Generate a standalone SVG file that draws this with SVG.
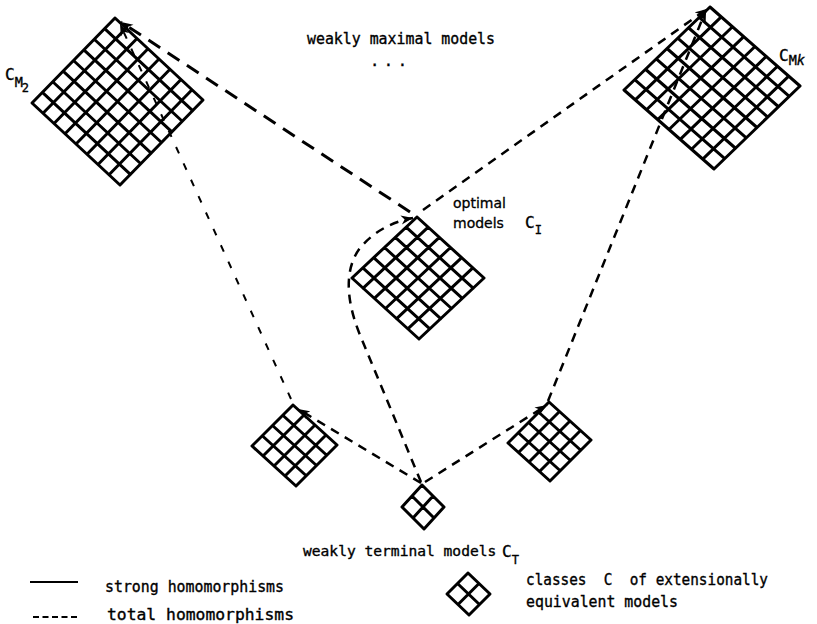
<svg xmlns="http://www.w3.org/2000/svg" width="817" height="624" viewBox="0 0 817 624">
<style>
.grid{fill:none;stroke:#000;stroke-width:3;stroke-linecap:round;stroke-linejoin:round;vector-effect:non-scaling-stroke}
.t{font-family:"DejaVu Sans Mono","Liberation Mono",monospace;font-size:15.5px;fill:#000;stroke:#000;stroke-width:0.35}
.lab{font-family:"DejaVu Sans Mono","Liberation Mono",monospace;font-size:16px;fill:#000;stroke:#000;stroke-width:0.35}
.p{font-family:"DejaVu Sans","Liberation Sans",sans-serif;font-size:14px;fill:#000;stroke:#000;stroke-width:0.3}
.c{fill:none;stroke:#000;stroke-width:2.5;stroke-dasharray:9 7}
.heavy{stroke-width:3;stroke-dasharray:14 9}
.light{stroke-width:2;stroke-dasharray:7 11}
</style>
<defs>
<marker id="arr" markerUnits="userSpaceOnUse" markerWidth="14" markerHeight="10" refX="12" refY="5" orient="auto">
<path d="M0,0.5 L12,5 L0,9.5 L3.5,5 Z" fill="#000"/>
</marker>
</defs>

<g id="connectors">
<path class="c" d="M421,483 L298,409" marker-end="url(#arr)"/>
<path class="c" d="M425,482 L547,405" marker-end="url(#arr)"/>
<path class="c" d="M421,482 L360,335 C345,298 345,268 360,248 C375,230 395,221 413,218" marker-end="url(#arr)"/>
<path class="c light" d="M291,399 L120,24" marker-end="url(#arr)"/>
<path class="c" d="M548,401 L706,10" marker-end="url(#arr)"/>
<path class="c heavy" d="M410,212 L121,22" marker-end="url(#arr)"/>
<path class="c" d="M423,210 L707,9" marker-end="url(#arr)"/>
</g>

<g id="node-cm2">
<g transform="matrix(11,10.25,-10.375,10.625,115,18)"><path class="grid" d="M0,0H8M0,1H8M0,2H8M0,3H8M0,4H8M0,5H8M0,6H8M0,7H8M0,8H8M0,0V8M1,0V8M2,0V8M3,0V8M4,0V8M5,0V8M6,0V8M7,0V8M8,0V8"/></g>
<text class="lab" x="5" y="80">C<tspan dy="7" font-size="13.5">M</tspan><tspan dy="5" dx="-1" font-size="12">2</tspan></text>
</g>

<g id="node-cmk">
<g transform="matrix(11.25,9.875,-10.75,10.375,710,7)"><path class="grid" d="M0,0H8M0,1H8M0,2H8M0,3H8M0,4H8M0,5H8M0,6H8M0,7H8M0,8H8M0,0V8M1,0V8M2,0V8M3,0V8M4,0V8M5,0V8M6,0V8M7,0V8M8,0V8"/></g>
<text class="lab" x="779" y="61">C<tspan dy="4" font-size="13.5">M</tspan><tspan font-size="13.5" font-style="italic">k</tspan></text>
</g>

<g id="node-ci">
<g transform="matrix(11.1667,10.1667,-10.8333,10.1667,417,217)"><path class="grid" d="M0,0H6M0,1H6M0,2H6M0,3H6M0,4H6M0,5H6M0,6H6M0,0V6M1,0V6M2,0V6M3,0V6M4,0V6M5,0V6M6,0V6"/></g>
<text class="p" x="453" y="208">optimal</text>
<text class="p" x="453" y="228">models</text>
<text class="lab" x="525" y="228">C<tspan dy="6" font-size="12">I</tspan></text>
</g>

<g id="node-bl">
<g transform="matrix(11,10,-10.25,10.25,293,405)"><path class="grid" d="M0,0H4M0,1H4M0,2H4M0,3H4M0,4H4M0,0V4M1,0V4M2,0V4M3,0V4M4,0V4"/></g>
</g>

<g id="node-br">
<g transform="matrix(10.5,9.5,-10.25,10.25,549,402)"><path class="grid" d="M0,0H4M0,1H4M0,2H4M0,3H4M0,4H4M0,0V4M1,0V4M2,0V4M3,0V4M4,0V4"/></g>
</g>

<g id="node-ct">
<g transform="matrix(11,11,-10,11,422,485)"><path class="grid" d="M0,0H2M0,1H2M0,2H2M0,0V2M1,0V2M2,0V2"/></g>
<text class="t" x="303" y="556" font-size="14.6" style="font-size:14.6px">weakly terminal models<tspan x="502" y="557" style="font-size:16px">C</tspan><tspan dy="7" style="font-size:12px">T</tspan></text>
</g>

<g id="top-label">
<text class="t" x="307" y="44" textLength="188" lengthAdjust="spacingAndGlyphs">weakly maximal models</text>
<text class="t" x="370" y="66" textLength="37" lengthAdjust="spacing">...</text>
</g>

<g id="legend">
<line x1="30" y1="582" x2="78" y2="582" stroke="#000" stroke-width="2"/>
<text class="t" x="105" y="592" textLength="179" lengthAdjust="spacingAndGlyphs">strong homomorphisms</text>
<line x1="33" y1="617" x2="78" y2="617" stroke="#000" stroke-width="2" stroke-dasharray="6 3.5"/>
<text class="t" x="107" y="620" textLength="187" lengthAdjust="spacingAndGlyphs">total homomorphisms</text>
<g transform="matrix(11,10.5,-10.5,10.5,468,573)"><path class="grid" d="M0,0H2M0,1H2M0,2H2M0,0V2M1,0V2M2,0V2"/></g>
<text class="t" x="526" y="585" textLength="242" lengthAdjust="spacingAndGlyphs" xml:space="preserve">classes  C  of extensionally</text>
<text class="t" x="526" y="607" textLength="152" lengthAdjust="spacingAndGlyphs">equivalent models</text>
</g>
</svg>
